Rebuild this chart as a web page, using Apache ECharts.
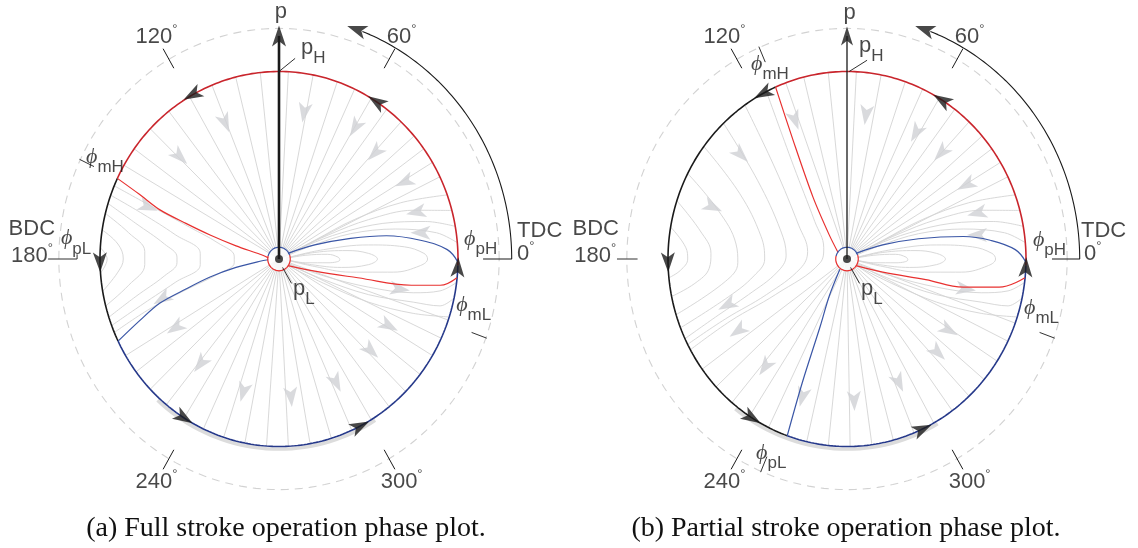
<!DOCTYPE html>
<html><head><meta charset="utf-8">
<script src="https://cdn.jsdelivr.net/npm/echarts@6/dist/echarts.min.js"></script>
<style>html,body{margin:0;padding:0;background:#fff}#c{width:1138px;height:548px}</style>
</head><body><div id="c"></div>
<script>
// ================= DATA =================
// Main circle = pressure p normalised to 1, angle phi in degrees (0 = TDC, counter-clockwise)
const degTicks = [60, 120, 240, 300];
const degTickLabels = ['60', '120', '240', '300'];
const dashedR = 1.23;          // dashed reference circle
const phaseArcR = 1.30;        // outer black phase-direction arc
const phaseArcEnd = 69;        // degrees
const pAxisTop = 1.19;

// ---- (a) full stroke ----
const arcRedA = [-2, 154.5];
const arcBlackA = [154.5, 206];
const arcBlueA = [206, 358];
const bandA = [228, 302];
const upperRaysA = [26, 31, 36, 41, 47, 53, 59, 65, 71, 79, 87, 96, 104, 112, 120, 128, 136, 144, 150];
const lowerRaysA = [211, 217, 224, 231, 238, 245, 252, 259, 266, 273, 280, 287, 294, 301, 308, 315, 322, 329, 335, 341];
const sepRedUpperA = [[-0.903,0.43],[-0.78,0.345],[-0.665,0.262],[-0.52,0.19],[-0.385,0.128],[-0.24,0.07],[-0.106,0.025],[-0.06,0.006]];
const sepBlueLowerA = [[-0.899,-0.438],[-0.78,-0.33],[-0.665,-0.235],[-0.52,-0.16],[-0.385,-0.096],[-0.24,-0.045],[-0.106,-0.012],[-0.06,-0.004]];
const sepBlueLobeA = [[0.05,0.03],[0.2,0.075],[0.4,0.11],[0.6,0.124],[0.79,0.1],[0.94,0.05],[0.9998,-0.017]];
const sepRedLobeA = [[0.05,-0.035],[0.2,-0.065],[0.44,-0.1],[0.74,-0.14],[0.9,-0.14],[0.994,-0.1]];
const saddleCurvesA = [
  [[-0.92,0.39],[-0.72,0.285],[-0.5,0.17],[-0.34,0.085],[-0.25,0.015],[-0.25,-0.02],[-0.34,-0.08],[-0.5,-0.155],[-0.72,-0.265],[-0.92,-0.392]],
  [[-0.94,0.34],[-0.76,0.24],[-0.58,0.13],[-0.44,0.03],[-0.44,-0.03],[-0.58,-0.125],[-0.76,-0.24],[-0.935,-0.355]],
  [[-0.955,0.296],[-0.8,0.19],[-0.64,0.08],[-0.57,0.01],[-0.57,-0.02],[-0.64,-0.09],[-0.8,-0.2],[-0.95,-0.31]],
  [[-0.97,0.243],[-0.84,0.14],[-0.75,0.04],[-0.75,-0.03],[-0.84,-0.14],[-0.968,-0.25]],
  [[-0.988,0.155],[-0.9,0.08],[-0.87,0.0],[-0.9,-0.07],[-0.985,-0.172]],
  [[-0.998,0.06],[-0.96,0.0],[-0.997,-0.075]]
];
const flowArrowsA = [
  [-0.30,0.725,-67],[0.14,0.78,-100],[0.425,0.70,-121],[0.536,0.565,-134],[0.70,0.41,-155],[0.765,0.25,-168],[0.79,0.14,180],
  [-0.553,0.544,-44],[-0.73,0.277,-22],
  [-0.654,-0.213,212],[-0.58,-0.368,214],[-0.44,-0.56,232],[-0.2,-0.71,254],[0.067,-0.736,275],[0.32,-0.66,296],[0.514,-0.49,316],[0.615,-0.357,331],[0.676,-0.16,352]
];
const circleArrowsA = [119, 57, 181, 238, 297, 357.5];
const tickMH_A = 154.5, tickML_A = -20;

// ---- (b) partial stroke ----
const arcRedB = [-2, 113.5];
const arcBlackB = [113.5, 250.5];
const arcBlueB = [250.5, 358];
const bandB = [232, 300];
const upperRaysB = [26, 31, 36, 41, 47, 53, 59, 65, 71, 79, 87, 96, 104, 110];
const lowerRaysB = [216, 223, 230, 237, 244, 257, 264, 271, 278, 285, 292, 299, 306, 313, 320, 327, 334, 340];
const sepRedUpperB = [[-0.399,0.917],[-0.3,0.63],[-0.19,0.33],[-0.1,0.13],[-0.05,0.035]];
const sepBlueLowerB = [[-0.04,-0.055],[-0.1,-0.2],[-0.15,-0.36],[-0.25,-0.66],[-0.334,-0.943]];
const sepBlueLobeB = [[0.05,0.03],[0.2,0.075],[0.4,0.108],[0.65,0.12],[0.8,0.1],[0.94,0.05],[0.9998,-0.017]];
const sepRedLobeB = [[0.05,-0.035],[0.2,-0.07],[0.44,-0.11],[0.65,-0.15],[0.85,-0.15],[0.994,-0.1]];
const saddleCurvesB = [
  [[-0.45,0.893],[-0.3,0.5],[-0.18,0.2],[-0.13,0.06],[-0.15,-0.02],[-0.4,-0.19],[-0.65,-0.33],[-0.875,-0.484]],
  [[-0.57,0.82],[-0.4,0.48],[-0.27,0.18],[-0.22,0.04],[-0.26,-0.05],[-0.45,-0.19],[-0.68,-0.32],[-0.89,-0.455]],
  [[-0.69,0.724],[-0.5,0.42],[-0.37,0.15],[-0.34,0.02],[-0.39,-0.07],[-0.55,-0.19],[-0.72,-0.3],[-0.905,-0.425]],
  [[-0.8,0.6],[-0.6,0.35],[-0.48,0.12],[-0.46,0.0],[-0.52,-0.09],[-0.66,-0.2],[-0.93,-0.367]],
  [[-0.89,0.456],[-0.72,0.26],[-0.62,0.08],[-0.61,-0.02],[-0.68,-0.12],[-0.955,-0.297]],
  [[-0.95,0.31],[-0.82,0.15],[-0.76,0.03],[-0.77,-0.05],[-0.85,-0.13],[-0.98,-0.2]],
  [[-0.985,0.17],[-0.9,0.06],[-0.89,0.0],[-0.93,-0.06],[-0.995,-0.1]]
];
const flowArrowsB = [
  [0.106,0.768,-98],[0.385,0.672,-120],[0.525,0.565,-133],[0.665,0.395,-152],[0.726,0.245,-166],[0.726,0.128,180],
  [-0.29,0.74,-70],[-0.592,0.555,-45],[-0.749,0.277,-25],
  [-0.67,-0.245,208],[-0.61,-0.384,215],[-0.458,-0.576,235],[-0.25,-0.736,255],[0.04,-0.757,272],[0.29,-0.66,295],[0.508,-0.5,315],[0.57,-0.38,330],[0.665,-0.16,352]
];
const circleArrowsB = [118, 58, 181, 238, 295, 357.5];
const tickMH_B = 113.5, tickML_B = -20, tickPL_B = 247;

// ---- flow near TDC (same field in both plots) ----
const tdcUpperCurves = [
  [[0.996,0.087],[0.88,0.14],[0.65,0.16],[0.4,0.135],[0.18,0.07],[0.04,0.015]],
  [[0.985,0.174],[0.82,0.2],[0.58,0.19],[0.35,0.14],[0.15,0.07],[0.03,0.012]],
  [[0.966,0.259],[0.75,0.26],[0.5,0.21],[0.28,0.13],[0.1,0.05],[0.02,0.008]],
  [[0.94,0.342],[0.68,0.3],[0.42,0.21],[0.2,0.1],[0.05,0.025]]
];
const tdcLowerCurves = [
  [[0.04,-0.02],[0.25,-0.09],[0.5,-0.15],[0.75,-0.18],[0.9,-0.17],[0.992,-0.125]],
  [[0.04,-0.025],[0.25,-0.11],[0.5,-0.19],[0.75,-0.23],[0.9,-0.25],[0.978,-0.208]],
  [[0.04,-0.03],[0.25,-0.13],[0.5,-0.23],[0.75,-0.29],[0.951,-0.309]]
];
const lobeLoops = [
  [[0.04,0.005],[0.25,0.05],[0.5,0.075],[0.7,0.065],[0.81,0.03],[0.83,0],[0.79,-0.035],[0.64,-0.07],[0.4,-0.07],[0.2,-0.04],[0.04,-0.005]],
  [[0.04,0.004],[0.2,0.035],[0.38,0.045],[0.5,0.03],[0.55,0],[0.5,-0.03],[0.35,-0.045],[0.18,-0.03],[0.04,-0.004]],
  [[0.04,0.003],[0.15,0.02],[0.27,0.025],[0.33,0.01],[0.34,-0.005],[0.28,-0.02],[0.15,-0.02],[0.04,-0.003]]
];

// ================= LAYOUT / STYLE =================
const L = { cy: 259, sx: 179, sy: 187.5, xMin: -1.55, xMax: 1.6, yMin: -1.45, yMax: 1.38, cx: [279, 847] };
const C = { ink:'#1a1a1a', red:'#c9252c', redSep:'#e8302f', blue:'#26398a', blueSep:'#3a56a6',
            stream:'#d4d4d4', arrowGray:'#cfd1d4', dash:'#d2d2d2', band:'#dcdcdc' };
const SANS = 'Liberation Sans, Arial, Helvetica, sans-serif';
const SERIF = 'Liberation Serif, Times New Roman, serif';
const ARROW = 'path://M6,0 L12,18 L6,13.5 L0,18 Z';
const RICH = {
  n:   {fontSize:22, fontFamily:SANS, color:C.ink, lineHeight:25},
  sup: {fontSize:13, fontFamily:SANS, color:C.ink, padding:[0,0,15,0]},
  phi: {fontSize:22, fontFamily:SERIF, fontStyle:'italic', color:C.ink, lineHeight:25},
  sub: {fontSize:17, fontFamily:SANS, color:C.ink, padding:[21,0,0,0]}
};

function rad(a){ return a*Math.PI/180; }
function pol(r,a){ return [r*Math.cos(rad(a)), r*Math.sin(rad(a))]; }
function arc(r,a0,a1,step){ step=step||1; const n=Math.max(2,Math.ceil(Math.abs(a1-a0)/step)); const p=[]; for(let i=0;i<=n;i++) p.push(pol(r,a0+(a1-a0)*i/n)); return p; }

const grids=[], xAxes=[], yAxes=[], series=[];

function buildPlot(i, d) {
  const cx = L.cx[i];
  grids.push({left: cx + L.xMin*L.sx, top: L.cy - L.yMax*L.sy, width:(L.xMax-L.xMin)*L.sx, height:(L.yMax-L.yMin)*L.sy});
  xAxes.push({type:'value', gridIndex:i, min:L.xMin, max:L.xMax, show:false});
  yAxes.push({type:'value', gridIndex:i, min:L.yMin, max:L.yMax, show:false});
  const ax = {xAxisIndex:i, yAxisIndex:i};
  const line = (pts, color, width, z, opt) => {
    opt = opt || {};
    series.push(Object.assign({type:'line'}, ax, {data:pts, showSymbol:false, symbol:'none', silent:true, clip:false,
      animation:false, z:z, smooth:opt.smooth||false, lineStyle:Object.assign({color:color, width:width}, opt.ls||{})}));
  };
  const arrows = (items, color, size, z) => {
    series.push(Object.assign({type:'scatter'}, ax, {symbol:ARROW, symbolSize:size, silent:true, clip:false, animation:false, z:z,
      itemStyle:{color:color}, data: items.map(it => ({value:[it[0],it[1]], symbolRotate: it[2]-90}))}));
  };
  // reference dashed circle, degree ticks
  line(arc(dashedR, 0, 360, 2), C.dash, 1.1, 1, {ls:{type:[8,6]}});
  degTicks.forEach(a => line([pol(1.175,a), pol(1.295,a)], C.ink, 1, 2));
  // gray band just outside the lower circle
  line(arc(1.014, d.band[0], d.band[1], 2), C.band, 3.5, 1);
  // streamlines
  d.upperRays.concat(d.lowerRays).forEach(a => line([pol(0.015,a), pol(1,a)], C.stream, 0.9, 1));
  tdcUpperCurves.concat(tdcLowerCurves).forEach(c => line(c, C.stream, 0.9, 1, {smooth:0.35}));
  lobeLoops.forEach(c => line(c, C.stream, 0.9, 1, {smooth:0.4}));
  d.saddle.forEach(c => line(c, C.stream, 0.9, 1, {smooth:0.4}));
  arrows(d.flowArrows, C.arrowGray, [14,20], 2);
  // white hub around the origin
  series.push(Object.assign({type:'scatter'}, ax, {symbol:'circle', symbolSize:22, silent:true, clip:false, z:3,
    itemStyle:{color:'#fff'}, data:[[0,0]]}));
  // main circle arcs
  line(arc(1, d.arcRed[0], d.arcRed[1]), C.red, 1.6, 4);
  line(arc(1, d.arcBlack[0], d.arcBlack[1]), C.ink, 1.6, 4);
  line(arc(1, d.arcBlue[0], d.arcBlue[1]), C.blue, 1.6, 4);
  // separatrices
  line(d.sepRedUpper, C.redSep, 1.2, 4, {smooth:0.3});
  line(d.sepBlueLower, C.blueSep, 1.2, 4, {smooth:0.3});
  line(d.sepBlueLobe, C.blueSep, 1.2, 4, {smooth:0.4});
  line(d.sepRedLobe, C.redSep, 1.2, 4, {smooth:0.4});
  line(arc(0.063, 20, 165, 5), C.blueSep, 1.2, 4);
  line(arc(0.063, 165, 380, 5), C.redSep, 1.2, 4);
  // p axis
  line([[0,0],[0,pAxisTop]], C.ink, d.pAxisW, 5);
  arrows([[0,pAxisTop,90]], C.ink, d.pAxisArrow, 6);
  series.push(Object.assign({type:'scatter'}, ax, {symbol:'circle', symbolSize:8, silent:true, clip:false, z:6,
    itemStyle:{color:C.ink}, data:[[0,0]]}));
  // phase direction arc with TDC leader
  line([[d.tdcLeader,0]].concat(arc(phaseArcR, 0, phaseArcEnd)), C.ink, 1.1, 4);
  arrows([pol(phaseArcR, phaseArcEnd+1.5).concat([phaseArcEnd+91.5])], C.ink, [14,20], 6);
  // arrows on main circle (counter-clockwise flow)
  arrows(d.circleArrows.map(a => pol(1,a).concat([a+90])), C.ink, [14,20], 6);
  // leaders and phi ticks
  d.leaders.forEach(p => line(p, C.ink, 0.9, 5));
  d.phiTicks.forEach(a => line([pol(1.145,a), pol(1.235,a)], C.ink, 0.9, 5));
  // text labels
  const labels = d.labels.concat(degTicks.map((a,k) => ({pos:pol(1.37,a), text:'{n|'+degTickLabels[k]+'}{sup|°}', align:'center'})));
  series.push(Object.assign({type:'scatter'}, ax, {symbolSize:1, silent:true, clip:false, z:7, itemStyle:{color:'rgba(0,0,0,0)'},
    data: labels.map(l => ({value:l.pos, label:{show:true, position:'inside', formatter:l.text, align:l.align, verticalAlign:'middle', rich:RICH}}))}));
}

buildPlot(0, {
  arcRed:arcRedA, arcBlack:arcBlackA, arcBlue:arcBlueA, band:bandA,
  upperRays:upperRaysA, lowerRays:lowerRaysA, saddle:saddleCurvesA, flowArrows:flowArrowsA,
  sepRedUpper:sepRedUpperA, sepBlueLower:sepBlueLowerA, sepBlueLobe:sepBlueLobeA, sepRedLobe:sepRedLobeA,
  circleArrows:circleArrowsA, pAxisW:2.6, pAxisArrow:[14,21], tdcLeader:1.14,
  leaders:[[[0,1.0],[0.09,1.07]], [[0.02,-0.045],[0.07,-0.13]], [[-1.29,0],[-1.128,0],[-1.128,0.025]]],
  phiTicks:[tickMH_A, tickML_A],
  labels:[
    {pos:[0.011,1.317], text:'{n|p}', align:'center'},
    {pos:[0.123,1.128], text:'{n|p}{sub|H}', align:'left'},
    {pos:[0.078,-0.157], text:'{n|p}{sub|L}', align:'left'},
    {pos:[-1.251,0.163], text:'{n|BDC}', align:'right'},
    {pos:[-1.263,0.019], text:'{n|180}{sup|°}', align:'right'},
    {pos:[1.33,0.149], text:'{n|TDC}', align:'left'},
    {pos:[1.33,0.027], text:'{n|0}{sup|°}', align:'left'},
    {pos:[-1.218,0.109], text:'{phi|ϕ}{sub|pL}', align:'left'},
    {pos:[1.034,0.107], text:'{phi|ϕ}{sub|pH}', align:'left'},
    {pos:[0.99,-0.245], text:'{phi|ϕ}{sub|mL}', align:'left'},
    {pos:[-1.078,0.544], text:'{phi|ϕ}{sub|mH}', align:'left'}
  ]
});
buildPlot(1, {
  arcRed:arcRedB, arcBlack:arcBlackB, arcBlue:arcBlueB, band:bandB,
  upperRays:upperRaysB, lowerRays:lowerRaysB, saddle:saddleCurvesB, flowArrows:flowArrowsB,
  sepRedUpper:sepRedUpperB, sepBlueLower:sepBlueLowerB, sepBlueLobe:sepBlueLobeB, sepRedLobe:sepRedLobeB,
  circleArrows:circleArrowsB, pAxisW:1.3, pAxisArrow:[12,19], tdcLeader:1.145,
  leaders:[[[0.012,1.0],[0.112,1.06]], [[0.02,-0.045],[0.07,-0.13]], [[-1.285,0],[-1.17,0]]],
  phiTicks:[tickMH_B, tickML_B, tickPL_B],
  labels:[
    {pos:[0.015,1.31], text:'{n|p}', align:'center'},
    {pos:[0.067,1.139], text:'{n|p}{sub|H}', align:'left'},
    {pos:[0.078,-0.157], text:'{n|p}{sub|L}', align:'left'},
    {pos:[-1.274,0.163], text:'{n|BDC}', align:'right'},
    {pos:[-1.29,0.019], text:'{n|180}{sup|°}', align:'right'},
    {pos:[1.307,0.149], text:'{n|TDC}', align:'left'},
    {pos:[1.324,0.027], text:'{n|0}{sup|°}', align:'left'},
    {pos:[1.039,0.1], text:'{phi|ϕ}{sub|pH}', align:'left'},
    {pos:[0.989,-0.26], text:'{phi|ϕ}{sub|mL}', align:'left'},
    {pos:[-0.536,1.04], text:'{phi|ϕ}{sub|mH}', align:'left'},
    {pos:[-0.508,-1.035], text:'{phi|ϕ}{sub|pL}', align:'left'}
  ]
});

const chart = echarts.init(document.getElementById('c'), null, {renderer:'canvas'});
chart.setOption({
  animation:false,
  backgroundColor:'#fff',
  grid:grids, xAxis:xAxes, yAxis:yAxes, series:series,
  graphic:[
    {type:'text', x:286, y:529, style:{text:'(a) Full stroke operation phase plot.', font:'28px '+SERIF, fill:'#111', textAlign:'center', textVerticalAlign:'middle'}},
    {type:'text', x:846, y:529, style:{text:'(b) Partial stroke operation phase plot.', font:'28px '+SERIF, fill:'#111', textAlign:'center', textVerticalAlign:'middle'}}
  ]
});
</script></body></html>
